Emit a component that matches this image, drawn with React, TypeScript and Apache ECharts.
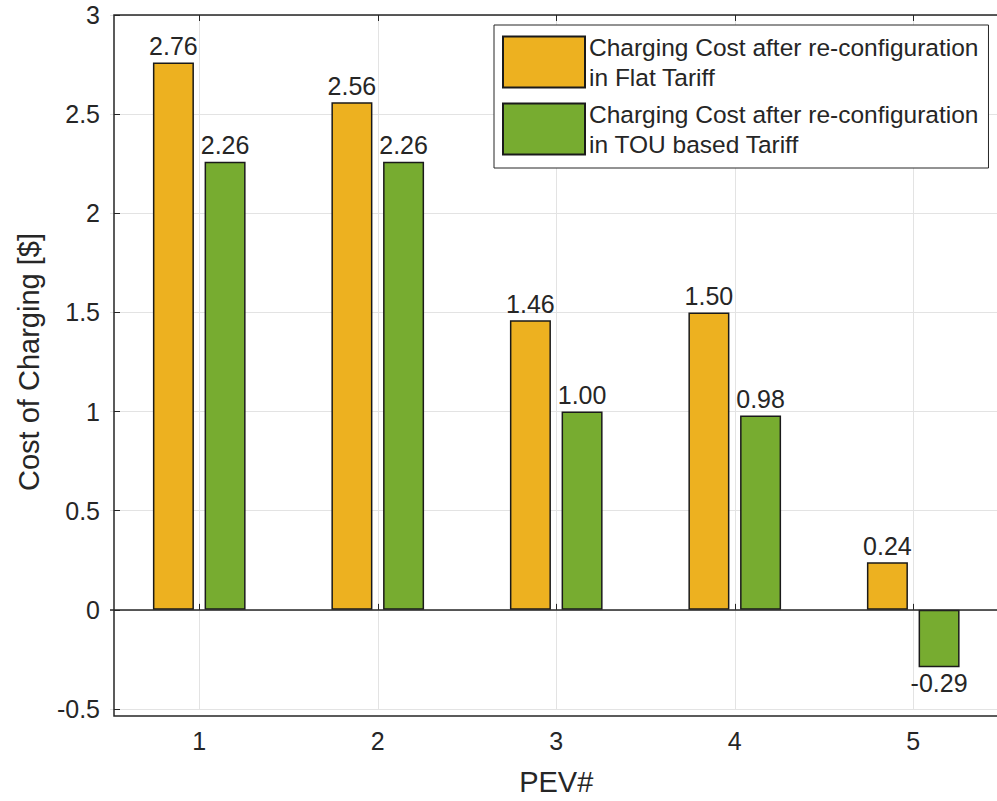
import React, { useEffect, useRef } from "react";
import * as echarts from "echarts";

// PEV charging cost per vehicle under two tariffs
const categories = ["1", "2", "3", "4", "5"];
const flatTariff = [2.76, 2.56, 1.46, 1.5, 0.24];
const touTariff = [2.26, 2.26, 1.0, 0.98, -0.29];
const seriesNames = [
  "Charging Cost after re-configuration\nin Flat Tariff",
  "Charging Cost after re-configuration\nin TOU based Tariff",
];
const yTicks = [-0.5, 0, 0.5, 1, 1.5, 2, 2.5, 3];

const FONT = "'Liberation Sans', Arial, Helvetica, sans-serif";
const INK = "#262626";
const GRID = "#e3e3e3";

// The axes box runs past the right edge of the visible page area
const CANVAS_W = 1012;
const CANVAS_H = 801;
const GRID_LEFT = 110;
const GRID_TOP = 15;
const GRID_W = 892.5;
const GRID_H = 701;
const FRAME_LEFT = 114;

export default function App() {
  const ref = useRef<HTMLDivElement>(null);

  useEffect(() => {
    if (!ref.current) return;
    const chart = echarts.init(ref.current, null, { renderer: "svg" });

    const withLabelSide = (values: number[]) =>
      values.map((v) => ({
        value: v,
        label: { position: v < 0 ? "bottom" : "top", distance: v < 0 ? 3 : 4 },
      }));

    const barLabel = {
      show: true,
      color: INK,
      fontFamily: FONT,
      fontSize: 25,
      formatter: (p: any) => Number(p.value).toFixed(2),
    };

    chart.setOption({
      animation: false,
      backgroundColor: "#ffffff",
      textStyle: { fontFamily: FONT, color: INK },
      grid: { left: GRID_LEFT, top: GRID_TOP, width: GRID_W, height: GRID_H, containLabel: false },
      legend: {
        orient: "vertical",
        left: 494,
        top: 25,
        itemWidth: 82,
        itemHeight: 51,
        itemGap: 7,
        padding: [7, 10, 9, 8],
        backgroundColor: "#ffffff",
        borderColor: INK,
        borderWidth: 1,
        borderRadius: 0,
        icon: "rect",
        textStyle: { fontSize: 24.5, lineHeight: 30, color: INK, fontFamily: FONT, padding: [0, 0, 0, -1] },
        data: seriesNames,
      },
      xAxis: [
        {
          type: "category",
          data: categories,
          position: "bottom",
          boundaryGap: true,
          name: "PEV#",
          nameLocation: "middle",
          nameGap: 58,
          nameTextStyle: { fontSize: 29, color: INK, fontFamily: FONT },
          axisLine: { show: false },
          axisTick: { show: true, inside: true, length: 6, alignWithLabel: true, lineStyle: { color: INK } },
          axisLabel: { fontSize: 25, color: INK, margin: 19, fontFamily: FONT },
          splitLine: { show: true, alignWithLabel: true, lineStyle: { color: GRID, width: 1 } },
        },
        {
          type: "category",
          data: categories,
          position: "top",
          boundaryGap: true,
          axisLine: { show: false },
          axisTick: { show: true, inside: true, length: 6, alignWithLabel: true, lineStyle: { color: INK } },
          axisLabel: { show: false },
          splitLine: { show: false },
        },
      ],
      yAxis: [
        {
          type: "value",
          min: -0.5,
          max: 3,
          interval: 0.5,
          offset: -(FRAME_LEFT - GRID_LEFT),
          name: "Cost of Charging [$]",
          nameLocation: "middle",
          nameGap: 71,
          nameTextStyle: { fontSize: 29, color: INK, fontFamily: FONT },
          axisLine: { show: false },
          axisTick: { show: true, inside: true, length: 6, lineStyle: { color: INK } },
          axisLabel: {
            fontSize: 25,
            color: INK,
            margin: 14,
            fontFamily: FONT,
            formatter: (v: number) => (yTicks.includes(v) ? String(v) : ""),
          },
          splitLine: { show: true, lineStyle: { color: GRID, width: 1 } },
        },
      ],
      series: [
        {
          name: seriesNames[0],
          type: "bar",
          data: withLabelSide(flatTariff),
          barWidth: 41,
          barGap: "26%",
          itemStyle: { color: "#EDB120", borderColor: "#1a1a1a", borderWidth: 1.5 },
          label: barLabel,
          markLine: {
            silent: true,
            symbol: "none",
            label: { show: false },
            lineStyle: { color: INK, width: 1.5, type: "solid" },
            data: [{ yAxis: 0 }],
          },
        },
        {
          name: seriesNames[1],
          type: "bar",
          data: withLabelSide(touTariff),
          barWidth: 41,
          barGap: "26%",
          itemStyle: { color: "#77AC30", borderColor: "#1a1a1a", borderWidth: 1.5 },
          label: barLabel,
        },
      ],
      graphic: [
        {
          type: "rect",
          silent: true,
          z: 5,
          shape: { x: FRAME_LEFT, y: GRID_TOP, width: GRID_LEFT + GRID_W - FRAME_LEFT, height: GRID_H },
          style: { fill: "none", stroke: INK, lineWidth: 1.5 },
        },
      ],
    });

    return () => chart.dispose();
  }, []);

  return (
    <div style={{ position: "absolute", left: 0, top: 0, width: 997, height: 801, overflow: "hidden" }}>
      <div ref={ref} style={{ width: CANVAS_W, height: CANVAS_H }} />
    </div>
  );
}
